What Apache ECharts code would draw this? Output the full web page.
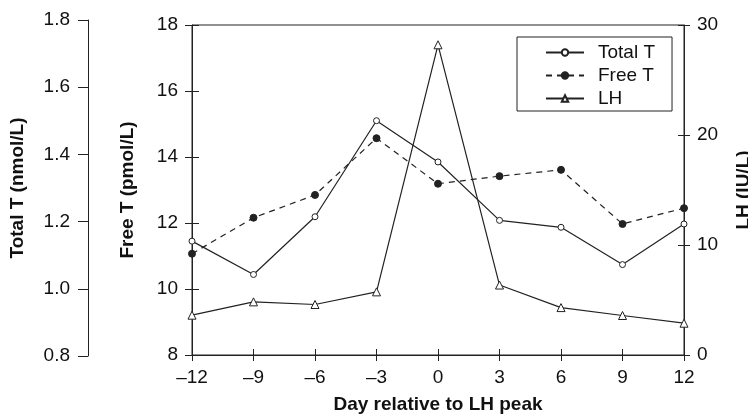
<!DOCTYPE html>
<html>
<head>
<meta charset="utf-8">
<script src="https://cdn.jsdelivr.net/npm/echarts@6/dist/echarts.min.js"></script>
<style>
html,body{margin:0;padding:0;background:#fff;}
#chart{width:748px;height:415px;}
</style>
</head>
<body>
<div id="chart"></div>
<script>
// Data
var days = ['\u201312', '\u20139', '\u20136', '\u20133', '0', '3', '6', '9', '12'];
var totalT = [1.145, 1.044, 1.219, 1.510, 1.385, 1.208, 1.187, 1.074, 1.197];
var freeT = [11.07, 12.16, 12.85, 14.57, 13.19, 13.42, 13.61, 11.97, 12.45];
var lh = [3.62, 4.83, 4.59, 5.74, 28.2, 6.36, 4.31, 3.59, 2.89];
var totalTTicks = [0.8, 1.8, 0.2];
var freeTTicks = [8, 18, 2];
var lhTicks = [0, 30, 10];

var FONT = '"Liberation Sans", Arial, Helvetica, sans-serif';
var INK = '#222';
var TXT = '#111';
var labelStyle = {color: TXT, fontSize: 19, fontFamily: FONT};
var nameStyle = {color: TXT, fontSize: 19, fontWeight: 'bold', fontFamily: FONT};

var chart = echarts.init(document.getElementById('chart'), null, {renderer: 'canvas'});

var option = {
  animation: false,
  backgroundColor: '#fff',
  grid: [
    {left: 192, right: 64, top: 25, bottom: 60, show: true, borderColor: INK, borderWidth: 1,
     backgroundColor: 'transparent', containLabel: false, outerBoundsMode: 'none'},
    {left: 88, width: 1, top: 20, bottom: 59, show: false, containLabel: false, outerBoundsMode: 'none'}
  ],
  legend: {
    orient: 'vertical',
    left: 517, top: 37,
    padding: [6, 17, 3, 28],
    itemGap: 4,
    itemWidth: 38, itemHeight: 8,
    borderColor: INK, borderWidth: 1,
    backgroundColor: '#fff',
    textStyle: {color: TXT, fontSize: 19, fontFamily: FONT, padding: [0, 0, 0, 9]},
    data: ['Total T', 'Free T', 'LH']
  },
  xAxis: [
    {
      type: 'category', gridIndex: 0, data: days, boundaryGap: false,
      axisLine: {lineStyle: {color: INK, width: 1}},
      axisTick: {inside: false, length: 6, lineStyle: {color: INK}},
      axisLabel: Object.assign({margin: 13}, labelStyle),
      splitLine: {show: false},
      name: 'Day relative to LH peak', nameLocation: 'middle', nameGap: 40,
      nameTextStyle: nameStyle
    },
    {
      type: 'category', gridIndex: 0, data: days, boundaryGap: false, position: 'bottom',
      axisLine: {show: false},
      axisTick: {inside: true, length: 6, lineStyle: {color: INK}},
      axisLabel: {show: false}, splitLine: {show: false}
    },
    {type: 'category', gridIndex: 1, data: days, show: false}
  ],
  yAxis: [
    { // 0 Free T visible
      type: 'value', gridIndex: 0, position: 'left',
      min: freeTTicks[0], max: freeTTicks[1], interval: freeTTicks[2],
      axisLine: {show: true, lineStyle: {color: INK, width: 1}},
      axisTick: {show: true, inside: false, length: 7, lineStyle: {color: INK}},
      axisLabel: Object.assign({margin: 14}, labelStyle),
      splitLine: {show: false},
      name: 'Free T (pmol/L)', nameLocation: 'middle', nameGap: 55, nameRotate: 90,
      nameTextStyle: nameStyle
    },
    { // 1 Free T inner ticks
      type: 'value', gridIndex: 0, position: 'left',
      min: freeTTicks[0], max: freeTTicks[1], interval: freeTTicks[2],
      axisLine: {show: false},
      axisTick: {show: true, inside: true, length: 7, lineStyle: {color: INK}},
      axisLabel: {show: false}, splitLine: {show: false}
    },
    { // 2 LH visible right
      type: 'value', gridIndex: 0, position: 'right',
      min: lhTicks[0], max: lhTicks[1], interval: lhTicks[2],
      axisLine: {show: true, lineStyle: {color: INK, width: 1}},
      axisTick: {show: true, inside: false, length: 6, lineStyle: {color: INK}},
      axisLabel: Object.assign({margin: 13}, labelStyle),
      splitLine: {show: false},
      name: 'LH (IU/L)', nameLocation: 'middle', nameGap: 50, nameRotate: 90,
      nameTextStyle: nameStyle
    },
    { // 3 LH inner ticks
      type: 'value', gridIndex: 0, position: 'right',
      min: lhTicks[0], max: lhTicks[1], interval: lhTicks[2],
      axisLine: {show: false},
      axisTick: {show: true, inside: true, length: 6, lineStyle: {color: INK}},
      axisLabel: {show: false}, splitLine: {show: false}
    },
    { // 4 Total T hidden scale in main grid
      type: 'value', gridIndex: 0, show: false,
      min: totalTTicks[0], max: totalTTicks[1]
    },
    { // 5 Total T visible outer axis
      type: 'value', gridIndex: 1, position: 'left',
      min: totalTTicks[0], max: totalTTicks[1], interval: totalTTicks[2],
      axisLine: {show: true, lineStyle: {color: INK, width: 1}},
      axisTick: {show: true, inside: false, length: 10, lineStyle: {color: INK}},
      axisLabel: Object.assign({margin: 18, formatter: function (v) { return v.toFixed(1); }}, labelStyle),
      splitLine: {show: false},
      name: 'Total T (nmol/L)', nameLocation: 'middle', nameGap: 61, nameRotate: 90,
      nameTextStyle: nameStyle
    }
  ],
  series: [
    {
      name: 'Total T', type: 'line', xAxisIndex: 0, yAxisIndex: 4, data: totalT,
      symbol: 'circle', symbolSize: 6, showAllSymbol: true,
      lineStyle: {color: INK, width: 1.2, type: 'solid'},
      itemStyle: {color: '#fff', borderColor: INK, borderWidth: 1}, z: 3
    },
    {
      name: 'Free T', type: 'line', xAxisIndex: 0, yAxisIndex: 0, data: freeT,
      symbol: 'circle', symbolSize: 7, showAllSymbol: true,
      lineStyle: {color: INK, width: 1.2, type: [6, 5]},
      itemStyle: {color: INK, borderColor: INK, borderWidth: 1}, z: 3
    },
    {
      name: 'LH', type: 'line', xAxisIndex: 0, yAxisIndex: 2, data: lh,
      symbol: 'triangle', symbolSize: 8, showAllSymbol: true,
      lineStyle: {color: INK, width: 1.2, type: 'solid'},
      itemStyle: {color: '#fff', borderColor: INK, borderWidth: 1}, z: 3
    }
  ]
};
chart.setOption(option);
</script>
</body>
</html>
